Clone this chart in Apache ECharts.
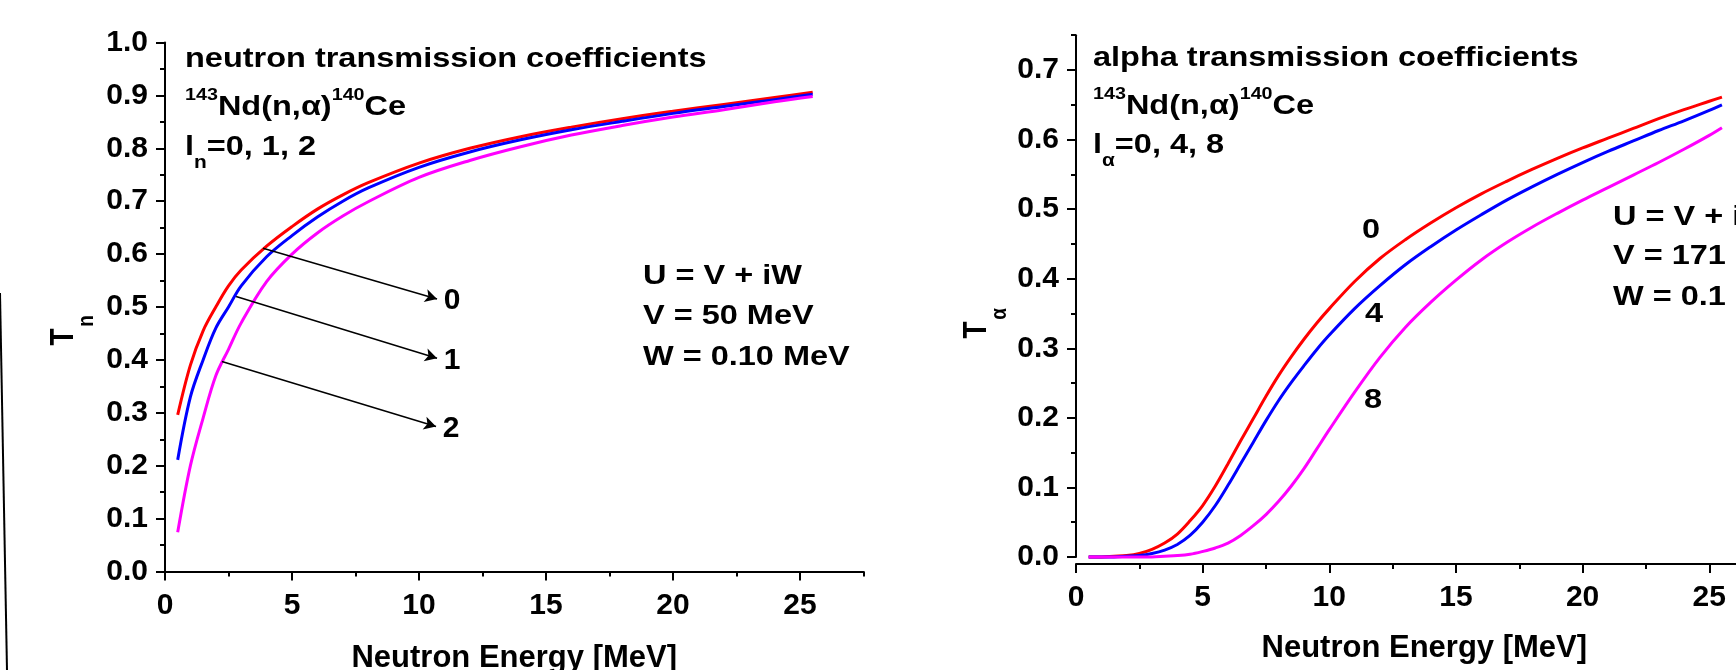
<!DOCTYPE html>
<html><head><meta charset="utf-8">
<script src="https://cdn.jsdelivr.net/npm/echarts@6/dist/echarts.min.js"></script>
<style>html,body{margin:0;padding:0;background:#fff}#c{width:1736px;height:670px}</style>
</head><body><div id="c"></div>
<script>
// ---------- data ----------
const energyN = [0.5,1,1.5,2,2.5,3,4,5,6,7,8,10,12,14,16,18,20,22,24,25.5];
const tnL0 = [0.296,0.39,0.455,0.50,0.54,0.57,0.615,0.652,0.685,0.712,0.735,0.772,0.80,0.822,0.84,0.856,0.87,0.883,0.896,0.906];
const tnL1 = [0.211,0.33,0.40,0.46,0.50,0.54,0.595,0.635,0.670,0.700,0.725,0.764,0.793,0.816,0.835,0.851,0.866,0.879,0.892,0.902];
const tnL2 = [0.074,0.20,0.29,0.37,0.42,0.47,0.548,0.600,0.640,0.672,0.699,0.745,0.777,0.803,0.825,0.843,0.859,0.873,0.888,0.898];

const energyA = [0.5,1,1.5,2,2.5,3,3.5,4,4.5,5,5.5,6,6.5,7,7.5,8,8.5,9,9.5,10,11,12,13,14,15,16,17,18,19,20,21,22,23,24,25,25.5];
const taL0 = [0,0,0.001,0.002,0.005,0.011,0.020,0.033,0.052,0.074,0.102,0.134,0.167,0.199,0.231,0.261,0.288,0.313,0.336,0.357,0.396,0.429,0.456,0.480,0.502,0.522,0.540,0.557,0.573,0.588,0.602,0.616,0.630,0.643,0.655,0.661];
const taL4 = [0,0,0,0.001,0.002,0.005,0.010,0.018,0.031,0.050,0.074,0.103,0.134,0.165,0.196,0.225,0.251,0.275,0.298,0.319,0.357,0.390,0.420,0.446,0.470,0.492,0.513,0.532,0.550,0.567,0.583,0.598,0.613,0.627,0.642,0.650];
const taL8 = [0,0,0,0,0,0,0.001,0.002,0.004,0.008,0.013,0.020,0.031,0.045,0.061,0.080,0.102,0.127,0.155,0.183,0.237,0.287,0.330,0.366,0.398,0.427,0.452,0.474,0.494,0.513,0.531,0.549,0.567,0.586,0.606,0.617];

const xTicks = [0,5,10,15,20,25];
const yTicksN = [0,0.1,0.2,0.3,0.4,0.5,0.6,0.7,0.8,0.9,1.0];
const yTicksA = [0,0.1,0.2,0.3,0.4,0.5,0.6,0.7];

// arrows (data coords: from a curve point to the label point) and their labels
const arrowFrom = [[3.86,0.611],[2.80,0.520],[2.24,0.397]];
const arrowTo   = [[10.71,0.515],[10.71,0.403],[10.67,0.274]];
const arrowText = ['0','1','2'];
// curve labels for the alpha chart
const alphaLabels = [[11.65,0.469,'0'],[11.77,0.349,'4'],[11.73,0.225,'8']];

// ---------- chart ----------
const FONT = '"Liberation Sans", Arial, Helvetica, sans-serif';
const BLACK = '#000';
const SX = 1.16; // horizontal stretch of the annotation texts
const tickFont = {color:BLACK, fontSize:30, fontWeight:'bold', fontFamily:FONT};
const nameFont = {color:BLACK, fontSize:31, fontWeight:'bold', fontFamily:FONT};

function xAxes(gi, offset, nameGap){
  return [{
    gridIndex:gi, type:'value', min:0, max:27.5, interval:2.5, offset:offset, position:'bottom',
    axisLine:{show:true, onZero:false, lineStyle:{color:BLACK, width:2}},
    axisTick:{show:true, inside:false, length:9, customValues:xTicks, lineStyle:{color:BLACK, width:2}},
    axisLabel:Object.assign({margin:19, customValues:xTicks, formatter:v=>String(v)}, tickFont),
    splitLine:{show:false},
    name:'Neutron Energy [MeV]', nameLocation:'middle', nameGap:nameGap, nameTextStyle:nameFont
  },{
    gridIndex:gi, type:'value', min:0, max:27.5, interval:2.5, offset:offset, position:'bottom',
    axisLine:{show:false, onZero:false},
    axisTick:{show:true, inside:false, length:5, lineStyle:{color:BLACK, width:2}},
    axisLabel:{show:false}, splitLine:{show:false}
  }];
}
function yAxes(gi, max, ticks){
  return [{
    gridIndex:gi, type:'value', min:0, max:max, interval:0.1, position:'left',
    axisLine:{show:true, onZero:false, lineStyle:{color:BLACK, width:2}},
    axisTick:{show:true, inside:false, length:9, customValues:ticks, lineStyle:{color:BLACK, width:2}},
    axisLabel:Object.assign({margin:17, customValues:ticks, formatter:v=>v.toFixed(1)}, tickFont),
    splitLine:{show:false}
  },{
    gridIndex:gi, type:'value', min:0, max:max, interval:0.05, position:'left',
    axisLine:{show:false, onZero:false},
    axisTick:{show:true, inside:false, length:5, lineStyle:{color:BLACK, width:2}},
    axisLabel:{show:false}, splitLine:{show:false}
  }];
}
function pairs(xs, ys){ return xs.map((x,i)=>[x, ys[i]]); }
function curve(name, color, xs, ys, xi, yi, extra){
  return Object.assign({
    name:name, type:'line', xAxisIndex:xi, yAxisIndex:yi, data:pairs(xs, ys),
    showSymbol:false, symbol:'none', smooth:0.35, clip:false,
    lineStyle:{color:color, width:3}, itemStyle:{color:color}
  }, extra||{});
}

const arrowLines = arrowFrom.map((f,i)=>[
  {coord:f},
  {coord:arrowTo[i], label:{formatter:arrowText[i]}}
]);

const rich = {
  m:{fontSize:28, fontWeight:'bold', fontFamily:FONT, color:BLACK, lineHeight:40},
  m3:{fontSize:28, fontWeight:'bold', fontFamily:FONT, color:BLACK, lineHeight:50},
  sup:{fontSize:17, fontWeight:'bold', fontFamily:FONT, color:BLACK, lineHeight:14, verticalAlign:'top'},
  sub:{fontSize:18, fontWeight:'bold', fontFamily:FONT, color:BLACK, lineHeight:12, verticalAlign:'bottom'}
};
function richTxt(x, y, text){
  return {type:'text', x:x, y:y, scaleX:SX, silent:true,
    style:{text:text, fill:BLACK, font:'bold 28px '+FONT, verticalAlign:'top', align:'left', rich:rich}};
}
function plainTxt(x, cy, text, size, align){
  return {type:'text', x:x, y:cy, scaleX:SX, silent:true,
    style:{text:text, fill:BLACK, font:'bold '+size+'px '+FONT, verticalAlign:'middle', align:align||'left'}};
}
function yName(cx, cy, sub, sx, sy){
  return {type:'group', x:cx, y:cy, rotation:Math.PI/2, scaleY:SX, silent:true, children:[
    {type:'text', x:0, y:0, style:{text:'T', fill:BLACK, font:'bold 28px '+FONT, align:'center', verticalAlign:'middle'}},
    {type:'text', x:sx, y:sy, style:{text:sub, fill:BLACK, font:'bold 19px '+FONT, align:'center', verticalAlign:'middle'}}
  ]};
}

const option = {
  animation:false,
  backgroundColor:'#fff',
  grid:[
    {left:165, top:42.5, width:698.5, height:529, containLabel:false, outerBoundsMode:'none'},
    {left:1076, top:35.2, width:696.6, height:521.8, containLabel:false, outerBoundsMode:'none'}
  ],
  xAxis:[].concat(xAxes(0, 0, 71), xAxes(1, 7, 69)),
  yAxis:[].concat(yAxes(0, 1.0, yTicksN), yAxes(1, 0.75, yTicksA)),
  series:[
    curve('l=0', '#FF0000', energyN, tnL0, 0, 0, {
      markLine:{silent:true, animation:false, symbol:['none','arrow'], symbolSize:[10,12],
        itemStyle:{color:BLACK},
        lineStyle:{color:BLACK, width:1.5, type:'solid'},
        label:{show:true, position:'end', distance:7, color:BLACK, fontSize:30, fontWeight:'bold', fontFamily:FONT},
        emphasis:{disabled:true},
        data:arrowLines}
    }),
    curve('l=1', '#0000FF', energyN, tnL1, 0, 0),
    curve('l=2', '#FF00FF', energyN, tnL2, 0, 0),
    curve('l=0', '#FF0000', energyA, taL0, 2, 2),
    curve('l=4', '#0000FF', energyA, taL4, 2, 2),
    curve('l=8', '#FF00FF', energyA, taL8, 2, 2)
  ],
  graphic:[
    {type:'line', silent:true, shape:{x1:0, y1:293, x2:7, y2:670}, style:{stroke:BLACK, lineWidth:2}},
    // left panel annotations
    plainTxt(185, 59, 'neutron transmission coefficients', 28),
    richTxt(185, 87, '{sup|143}{m|Nd(n,α)}{sup|140}{m|Ce}'),
    richTxt(185, 122, '{m3|l}{sub|n}{m3|=0, 1, 2}'),
    plainTxt(643, 276, 'U = V + iW', 28),
    plainTxt(643, 316, 'V = 50 MeV', 28),
    plainTxt(643, 357, 'W = 0.10 MeV', 28),
    yName(64, 337, 'n', 16, 20),
    // right panel annotations
    plainTxt(1093, 58, 'alpha transmission coefficients', 28),
    richTxt(1093, 86, '{sup|143}{m|Nd(n,α)}{sup|140}{m|Ce}'),
    richTxt(1093, 120, '{m3|l}{sub|α}{m3|=0, 4, 8}'),
    plainTxt(1613, 217, 'U = V + iW', 28),
    plainTxt(1613, 256, 'V = 171 MeV', 28),
    plainTxt(1613, 297, 'W = 0.1 MeV', 28),
    yName(977, 330, 'α', 16, 20)
  ]
};
const chart = echarts.init(document.getElementById('c'));
chart.setOption(option);
// curve labels of the alpha panel, placed through the panel's own scales
const curveLabelGraphics = alphaLabels.map(d=>{
  const p = chart.convertToPixel({xAxisIndex:2, yAxisIndex:2}, [d[0], d[1]]);
  return {type:'text', x:p[0], y:p[1], scaleX:SX, silent:true,
    style:{text:d[2], fill:BLACK, font:'bold 28px '+FONT, align:'center', verticalAlign:'middle'}};
});
chart.setOption({graphic: option.graphic.concat(curveLabelGraphics)});
</script>
</body></html>
